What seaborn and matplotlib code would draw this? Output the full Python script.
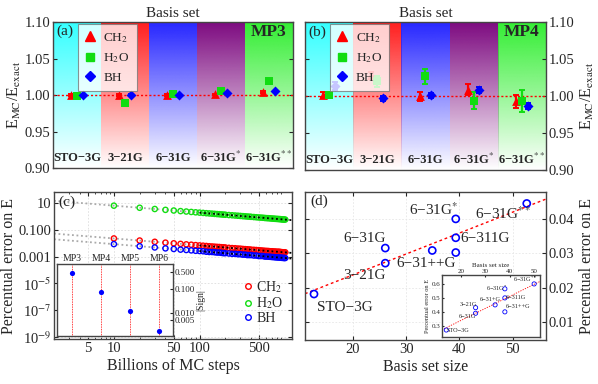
import numpy as np
import pandas as pd
import matplotlib
matplotlib.use("Agg")
import matplotlib.pyplot as plt
from matplotlib.lines import Line2D
from matplotlib.colors import to_rgb
import seaborn as sns

# ---------------- data ----------------
basis_labels = ["STO−3G", "3−21G", "6−31G", "6−31G$^{*}$", "6−31G$^{**}$"]
mol_names = ["CH$_2$", "H$_2$O", "BH"]

# (a) MP3: E_MC / E_exact
mp3_ch2 = [1.000, 1.000, 1.000, 1.001, 1.004]
mp3_h2o = [0.999, 0.989, 1.002, 1.006, 1.019]
mp3_bh = [1.000, 1.000, 1.000, 1.003, 1.005]
mp3_ch2_err = [0.001, 0.001, 0.001, 0.001, 0.001]
mp3_h2o_err = [0.001, 0.001, 0.004, 0.001, 0.001]
mp3_bh_err = [0.001, 0.001, 0.001, 0.001, 0.001]

# (b) MP4: E_MC / E_exact
mp4_ch2 = [1.002, 1.028, 1.000, 1.009, 0.993]
mp4_h2o = [1.002, 1.020, 1.027, 0.994, 0.993]
mp4_bh = [1.014, 0.997, 1.001, 1.008, 0.987]
mp4_ch2_err = [0.003, 0.005, 0.006, 0.008, 0.009]
mp4_h2o_err = [0.002, 0.007, 0.010, 0.011, 0.015]
mp4_bh_err = [0.005, 0.003, 0.003, 0.004, 0.004]

# (c) percentual error vs billions of MC steps
mc_steps = [10, 20, 30, 40, 50, 60, 70, 80, 90, 100, 110, 120, 130, 140, 150,
            160, 170, 180, 190, 200, 220, 240, 260, 280, 300, 320, 340, 360,
            380, 400, 430, 460, 490, 520, 550, 580, 610, 640, 670, 700, 730,
            760, 790, 820, 850, 880, 910, 940, 970, 1000]
err_h2o = [6.31, 4.40, 3.56, 3.07, 2.74, 2.48, 2.30, 2.14, 2.01, 1.91, 1.82,
           1.73, 1.66, 1.60, 1.54, 1.49, 1.45, 1.40, 1.36, 1.33, 1.26, 1.21,
           1.16, 1.12, 1.08, 1.04, 1.01, 0.98, 0.95, 0.93, 0.89, 0.86, 0.83,
           0.81, 0.79, 0.76, 0.74, 0.73, 0.71, 0.69, 0.68, 0.66, 0.65, 0.64,
           0.63, 0.62, 0.60, 0.59, 0.58, 0.58]
err_ch2 = [0.0226, 0.0158, 0.0127, 0.0110, 0.0098, 0.0089, 0.0082, 0.0077,
           0.0072, 0.0068, 0.0065, 0.0062, 0.0059, 0.0057, 0.0055, 0.0053,
           0.0052, 0.0050, 0.0049, 0.0048, 0.0045, 0.0043, 0.0042, 0.0040,
           0.0039, 0.0037, 0.0036, 0.0035, 0.0034, 0.0033, 0.0032, 0.0031,
           0.0030, 0.0029, 0.0028, 0.0027, 0.00265, 0.0026, 0.0025, 0.0025,
           0.0024, 0.0024, 0.0023, 0.0023, 0.0023, 0.0022, 0.00215, 0.0021,
           0.0021, 0.0021]
err_bh = [0.0085, 0.0059, 0.0048, 0.0041, 0.0037, 0.0033, 0.0031, 0.0029,
          0.0027, 0.0026, 0.0025, 0.0023, 0.0022, 0.0022, 0.0021, 0.0020,
          0.0020, 0.0019, 0.0018, 0.0018, 0.0017, 0.0016, 0.0016, 0.0015,
          0.0015, 0.0014, 0.0014, 0.0013, 0.0013, 0.0013, 0.0012, 0.0012,
          0.0011, 0.0011, 0.0011, 0.0010, 0.0010, 0.00098, 0.00096, 0.00093,
          0.00092, 0.00089, 0.00088, 0.00086, 0.00085, 0.00084, 0.00081,
          0.00080, 0.00078, 0.00078]

# (c) inset: |Sign| per perturbation order
mp_orders = [3, 4, 5, 6]
mp_order_labels = ["MP3", "MP4", "MP5", "MP6"]
sign_vals = [0.48, 0.077, 0.0122, 0.00174]

# (d) percentual error vs basis set size
size_main = [12.75, 26.1, 26.1, 34.9, 39.3, 39.3, 39.3, 52.6]
perr_main = [0.0181, 0.0271, 0.0315, 0.0308, 0.0400, 0.0345, 0.0302, 0.0445]
# (d) inset
size_ins = [14, 26, 26, 34, 38, 38, 38, 50]
perr_ins = [0.27, 0.43, 0.39, 0.45, 0.565, 0.50, 0.40, 0.60]

# ---------------- style ----------------
sns.set_style("ticks")
plt.rcParams["font.family"] = ["Liberation Serif", "DejaVu Serif"]
plt.rcParams["mathtext.fontset"] = "stix"
plt.rcParams["xtick.direction"] = "in"
plt.rcParams["ytick.direction"] = "in"
plt.rcParams["axes.edgecolor"] = "#444444"
plt.rcParams["axes.linewidth"] = 1.0

RED, GREEN, BLUE = "#ff0000", "#11dd11", "#0000ff"
mol_colors = [RED, GREEN, BLUE]
mol_markers = ["^", "s", "D"]
mol_sizes = [40, 30, 26]
offsets = [-0.12, 0.0, 0.12]
band_colors = ["#33ffff", "#ff1e1e", "#2626ff", "#7d0a80", "#33ee33"]
TICK_FS = 10.5
LABEL_FS = 11.5

fig = plt.figure(figsize=(5.98, 3.84), dpi=100)
ax_a = fig.add_axes([0.0886, 0.5625, 0.401, 0.380])
ax_b = fig.add_axes([0.510, 0.557, 0.403, 0.385])
ax_c = fig.add_axes([0.0903, 0.117, 0.398, 0.383])
ax_d = fig.add_axes([0.510, 0.1146, 0.403, 0.385])


def ratio_panel(ax, series, errs, tag, method):
    x = np.arange(len(basis_labels))
    for i, col in enumerate(band_colors):
        grad = np.zeros((256, 1, 4))
        grad[:, 0, :3] = to_rgb(col)
        grad[:, 0, 3] = np.linspace(1.0, 0.0, 256)
        ax.imshow(grad, extent=(i - 0.5, i + 0.5, 0.90, 1.10),
                  aspect="auto", origin="upper", zorder=0)
    ax.axhline(1.0, color="red", ls=(0, (1.5, 1.5)), lw=1.0, zorder=1)
    for k in range(3):
        xp = x + offsets[k]
        ax.errorbar(xp, series[k], yerr=errs[k], fmt="none",
                    ecolor=mol_colors[k], elinewidth=1.6, capsize=2,
                    capthick=1.4, zorder=2)
        sns.scatterplot(x=xp, y=series[k], marker=mol_markers[k],
                        color=mol_colors[k], s=mol_sizes[k], linewidth=0,
                        zorder=3, ax=ax)
    for i, lab in enumerate(basis_labels):
        ax.text(i, 0.914, lab, ha="center", va="center", fontsize=9,
                fontweight="bold", zorder=4)
    ax.text(4.0, 1.087, method, ha="center", va="center", fontsize=12.5,
            fontweight="bold", zorder=4)
    ax.text(-0.42, 1.087, tag, ha="left", va="center", fontsize=11, zorder=4)
    ax.set_xlim(-0.5, 4.5)
    ax.set_ylim(0.90, 1.10)
    ax.set_xticks([])
    ax.set_yticks([0.90, 0.95, 1.00, 1.05, 1.10])
    ax.set_title("Basis set", fontsize=11, pad=4)
    handles = [Line2D([], [], ls="none", marker=mol_markers[k],
                      color=mol_colors[k], markersize=[6.5, 5.5, 5][k])
               for k in range(3)]
    leg = ax.legend(handles, mol_names, loc="upper left",
                    bbox_to_anchor=(0.103, 0.99), borderaxespad=0,
                    fontsize=9.5, frameon=True, fancybox=False,
                    framealpha=0.78, edgecolor="#777777", handlelength=0.8,
                    handletextpad=0.6, labelspacing=0.5, borderpad=0.55)
    leg.get_frame().set_linewidth(0.8)
    leg.set_zorder(5)


ratio_panel(ax_a, [mp3_ch2, mp3_h2o, mp3_bh],
            [mp3_ch2_err, mp3_h2o_err, mp3_bh_err], "(a)", "MP3")
ax_a.tick_params(axis="y", left=True, right=True, labelsize=TICK_FS,
                 length=3, pad=2)
ax_a.set_yticklabels(["0.90", "0.95", "1.00", "1.05", "1.10"])
ax_a.set_ylabel("E$_{\\rm MC}$/E$_{\\rm exact}$", fontsize=LABEL_FS,
                labelpad=1)

ratio_panel(ax_b, [mp4_ch2, mp4_h2o, mp4_bh],
            [mp4_ch2_err, mp4_h2o_err, mp4_bh_err], "(b)", "MP4")
ax_b.yaxis.tick_right()
ax_b.yaxis.set_label_position("right")
ax_b.tick_params(axis="y", left=True, right=True, labelleft=False,
                 labelright=True, labelsize=TICK_FS, length=3, pad=2)
ax_b.set_yticklabels(["0.90", "0.95", "1.00", "1.05", "1.10"])
ax_b.set_ylabel("E$_{\\rm MC}$/E$_{\\rm exact}$", fontsize=LABEL_FS,
                labelpad=3)

# ---------------- (c) ----------------
ax_c.set_xscale("log")
ax_c.set_yscale("log")
xl = (2.0, 1200.0)
ax_c.set_xlim(*xl)
ax_c.set_ylim(7e-10, 66)
ax_c.set_xticks([5, 10, 50, 100, 500])
ax_c.set_xticklabels(["5", "10", "50", "100", "500"])
ax_c.set_yticks([10, 0.1, 0.001, 1e-5, 1e-7, 1e-9])
ax_c.set_yticklabels(["10", "0.100", "0.001", "10$^{-5}$", "10$^{-7}$",
                      "10$^{-9}$"])
ax_c.tick_params(labelsize=TICK_FS, length=3, top=True, right=True, pad=2)
ax_c.tick_params(which="minor", length=1.5, top=True, right=True)
ax_c.grid(True, which="major", color="#dddddd", ls=(0, (2, 2)), lw=0.6)

xx = np.logspace(np.log10(xl[0]), np.log10(xl[1]), 60)
xx_hi = np.logspace(2, np.log10(xl[1]), 40)
for vals, col in zip([err_ch2, err_h2o, err_bh], mol_colors):
    sns.scatterplot(x=mc_steps, y=vals, marker="o", facecolors="none",
                    edgecolor=col, linewidth=1.0, s=14, zorder=3, ax=ax_c)
    p = np.polyfit(np.log10(mc_steps), np.log10(vals), 1)
    ax_c.plot(xx, 10 ** np.polyval(p, np.log10(xx)), color="#aaaaaa",
              ls=(0, (1, 1.5)), lw=1.3, zorder=2)
    ax_c.plot(xx_hi, 10 ** np.polyval(p, np.log10(xx_hi)), color="black",
              ls=(0, (1, 1.5)), lw=1.3, zorder=4)
ax_c.text(2.25, 10.5, "(c)", fontsize=11, va="center", ha="left")
ax_c.set_xlabel("Billions of MC steps", fontsize=LABEL_FS, labelpad=2)
ax_c.set_ylabel("Percentual error on E", fontsize=LABEL_FS, labelpad=1)
hc = [Line2D([], [], ls="none", marker="o", mfc="none", mec=c, mew=1.0,
             markersize=4) for c in mol_colors]
ax_c.legend(hc, mol_names, loc="lower right", bbox_to_anchor=(1.0, 0.04),
            frameon=False, fontsize=10, handlelength=0.6,
            handletextpad=0.3, labelspacing=0.05, borderaxespad=0.2)

ins_c = fig.add_axes([0.0953, 0.125, 0.194, 0.1875])
ins_c.set_facecolor("white")
ins_c.set_yscale("log")
ins_c.set_xlim(2.48, 6.49)
ins_c.set_ylim(1.07e-3, 1.12)
for xo in mp_orders:
    ins_c.axvline(xo, color="red", ls=(0, (1, 1)), lw=0.6, zorder=1)
sns.scatterplot(x=mp_orders, y=sign_vals, color="blue", s=14, linewidth=0,
                zorder=3, ax=ins_c)
ins_c.xaxis.tick_top()
ins_c.set_xticks(mp_orders)
ins_c.set_xticklabels(mp_order_labels)
ins_c.tick_params(axis="x", length=0, labelsize=7, pad=1)
ins_c.yaxis.tick_right()
ins_c.yaxis.set_label_position("right")
ins_c.set_yticks([0.5, 0.1, 0.01, 0.005])
ins_c.set_yticklabels(["0.500", "0.100", "0.010", "0.005"])
ins_c.minorticks_off()
ins_c.tick_params(axis="y", labelsize=6.5, length=2, pad=1)
ins_c.set_ylabel("|Sign|", fontsize=7, labelpad=1)

# ---------------- (d) ----------------
xd = (11.06, 56.2)
ax_d.set_xlim(*xd)
ax_d.set_ylim(0.0047, 0.0478)
ax_d.grid(True, color="#e6e6e6", ls=(0, (2, 2)), lw=0.6)
pd_fit = np.polyfit(size_main, perr_main, 1)
xs = np.array(xd)
ax_d.plot(xs, np.polyval(pd_fit, xs), color="red", ls=(0, (2, 2)), lw=1.0,
          zorder=2)
sns.scatterplot(x=size_main, y=perr_main, marker="o", facecolors="none",
                edgecolor="blue", linewidth=1.2, s=26, zorder=3, ax=ax_d)
d_labels = [("STO−3G", 13.4, 0.0142), ("3−21G", 18.25, 0.0235),
            ("6−31G", 18.25, 0.0342), ("6−31++G", 28.25, 0.0271),
            ("6−311G", 40.1, 0.0342), ("6−31G$^{*}$", 30.6, 0.0426),
            ("6−31G$^{**}$", 42.9, 0.0415)]
for lab, tx, ty in d_labels:
    ax_d.text(tx, ty, lab, fontsize=11, ha="left", va="center", zorder=4)
ax_d.text(12.0, 0.0452, "(d)", fontsize=11, ha="left", va="center")
ax_d.set_xticks([20, 30, 40, 50])
ax_d.set_yticks([0.01, 0.02, 0.03, 0.04])
ax_d.set_yticklabels(["0.01", "0.02", "0.03", "0.04"])
ax_d.yaxis.tick_right()
ax_d.yaxis.set_label_position("right")
ax_d.tick_params(labelsize=TICK_FS, length=3, left=True, right=True,
                 top=True, labelleft=False, labelright=True, pad=2)
ax_d.set_xlabel("Basis set size", fontsize=LABEL_FS, labelpad=2)
ax_d.set_ylabel("Percentual error on E", fontsize=LABEL_FS, labelpad=3)

ins_d = fig.add_axes([0.739, 0.1224, 0.164, 0.1615])
ins_d.set_facecolor("white")
ins_d.set_xlim(12.2, 52.4)
ins_d.set_ylim(0.22, 0.664)
pi_fit = np.polyfit(size_ins, perr_ins, 1)
xi = np.array([12.2, 52.4])
ins_d.plot(xi, np.polyval(pi_fit, xi), color="red", ls=(0, (1.5, 1.5)),
           lw=0.6, zorder=2)
sns.scatterplot(x=size_ins, y=perr_ins, marker="o", facecolors="none",
                edgecolor="blue", linewidth=0.6, s=9, zorder=3, ax=ins_d)
i_labels = [("STO−3G", 14.3, 0.264), ("6−31G", 19.2, 0.364),
            ("3−21G", 19.6, 0.45), ("6−31+G", 27.8, 0.486),
            ("6−31G$^{*}$", 30.2, 0.571), ("6−31G$^{**}$", 41.2, 0.636),
            ("6−311G", 38.4, 0.50), ("6−31++G", 38.4, 0.436)]
for lab, tx, ty in i_labels:
    ins_d.text(tx, ty, lab, fontsize=4.5, ha="left", va="center", zorder=4)
ins_d.xaxis.tick_top()
ins_d.xaxis.set_label_position("top")
ins_d.set_xticks([20, 30, 40, 50])
ins_d.set_yticks([0.3, 0.4, 0.5, 0.6])
ins_d.tick_params(labelsize=5, length=1.5, pad=1)
ins_d.set_xlabel("Basis set size", fontsize=5, labelpad=1)
ins_d.set_ylabel("Percentual error on E", fontsize=4.5, labelpad=1)

fig.savefig("out.png", dpi=100)
